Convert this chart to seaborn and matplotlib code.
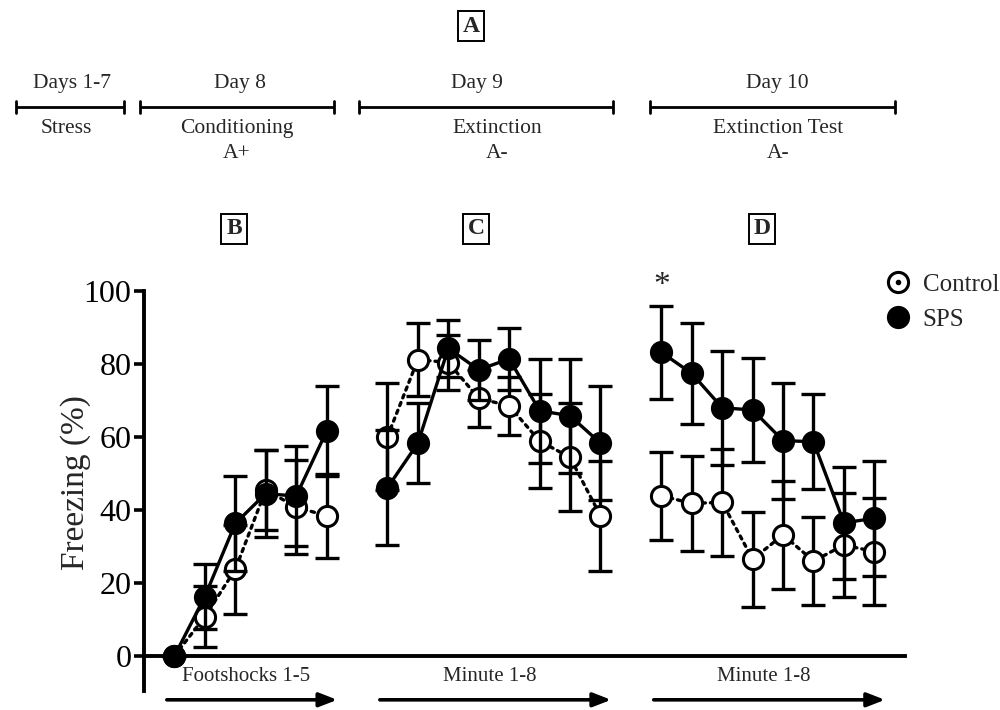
import numpy as np
import pandas as pd
import matplotlib
matplotlib.use("Agg")
import matplotlib.pyplot as plt
import seaborn as sns
from matplotlib.lines import Line2D
from matplotlib.legend_handler import HandlerTuple

# ---------------- data ----------------
panels = ["B", "C", "D"]
panel_axis_labels = ["Footshocks 1-5", "Minute 1-8", "Minute 1-8"]

control_B = [0, 10.8, 23.7, 45.5, 40.8, 38.4]
control_B_sem = [0, 8.3, 12.3, 11.0, 12.8, 11.5]
sps_B = [0, 16.3, 36.3, 44.5, 43.8, 61.6]
sps_B_sem = [0, 8.8, 13.0, 12.0, 13.7, 12.4]

control_C = [60.1, 81.2, 80.4, 70.6, 68.5, 58.9, 54.4, 38.4]
control_C_sem = [14.6, 10.0, 7.5, 7.8, 8.0, 13.0, 14.8, 15.0]
sps_C = [46.1, 58.3, 84.3, 78.4, 81.4, 67.2, 65.8, 58.3]
sps_C_sem = [15.7, 11.0, 7.8, 8.2, 8.4, 14.2, 15.6, 15.7]

control_D = [43.9, 41.8, 42.1, 26.5, 33.2, 26.0, 30.4, 28.6]
control_D_sem = [12.0, 13.0, 14.6, 13.0, 14.8, 12.1, 14.2, 14.7]
sps_D = [83.2, 77.4, 68.0, 67.4, 59.0, 58.7, 36.5, 37.7]
sps_D_sem = [12.8, 13.8, 15.6, 14.2, 15.9, 13.0, 15.4, 15.7]

yticks = [0, 20, 40, 60, 80, 100]

timeline_days = ["Days 1-7", "Day 8", "Day 9", "Day 10"]
timeline_phase = ["Stress", "Conditioning", "Extinction", "Extinction Test"]
timeline_ctx = ["", "A+", "A-", "A-"]

# ---------------- build long table ----------------
control = [control_B, control_C, control_D]
control_sem = [control_B_sem, control_C_sem, control_D_sem]
sps = [sps_B, sps_C, sps_D]
sps_sem = [sps_B_sem, sps_C_sem, sps_D_sem]

rows = []
start = 0
panel_starts = []
for p, name in enumerate(panels):
    n = len(control[p])
    panel_starts.append(start)
    for i in range(n):
        rows.append(dict(panel=name, group="Control", x=start + i, y=control[p][i], err=control_sem[p][i]))
        rows.append(dict(panel=name, group="SPS", x=start + i, y=sps[p][i], err=sps_sem[p][i]))
    start += n + 1
df = pd.DataFrame(rows)

# ---------------- figure ----------------
sns.set_theme(style="ticks")
plt.rcParams["font.family"] = ["Liberation Serif", "DejaVu Serif"]

fig = plt.figure(figsize=(10, 7.1), dpi=100)
ax = fig.add_axes([0.144, 0.0272, 0.776, 0.563])

styles = {
    "Control": dict(mfc="white", ls=(0, (1.0, 1.5)), z=3),
    "SPS": dict(mfc="black", ls="-", z=5),
}
for grp in ["Control", "SPS"]:
    st = styles[grp]
    for name in panels:
        d = df[(df["panel"] == name) & (df["group"] == grp)]
        ax.errorbar(d["x"].to_numpy(), d["y"].to_numpy(), yerr=d["err"].to_numpy(),
                    fmt="none", ecolor="black",
                    elinewidth=2.4, capsize=8.5, capthick=2.4,
                    zorder=st["z"] - 0.5, clip_on=False)
        sns.lineplot(data=d, x="x", y="y", ax=ax, color="black",
                     marker="o", markersize=14.5, markeredgewidth=2.2,
                     markerfacecolor=st["mfc"], markeredgecolor="black",
                     linestyle=st["ls"], linewidth=2.4,
                     dash_capstyle="round", zorder=st["z"], clip_on=False,
                     legend=False)

ax.set_xlim(-1, 24.5)
ax.set_ylim(-9.5, 100)
ax.set_yticks(yticks)
ax.set_yticklabels([str(t) for t in yticks], fontsize=23)
ax.set_xticks([])
ax.set_xlabel("")
ax.set_ylabel("Freezing (%)", fontsize=24)
ax.yaxis.set_label_coords(-0.068, 0.52)
ax.tick_params(axis="y", length=7, width=2.6, direction="out", pad=2, colors="black")
for s in ["top", "right"]:
    ax.spines[s].set_visible(False)
ax.spines["left"].set_linewidth(2.8)
ax.spines["bottom"].set_linewidth(2.8)
ax.spines["bottom"].set_position(("data", 0))
ax.spines["bottom"].set_bounds(-1, 24.0)
ax.spines["left"].set_color("black")
ax.spines["bottom"].set_color("black")
ax.patch.set_alpha(0)

# panel axis labels and arrows
for p, name in enumerate(panels):
    s0 = panel_starts[p]
    n = len(control[p])
    mid = s0 + (n - 1) / 2
    ax.text(mid - 0.15, -5.6, panel_axis_labels[p], ha="center", va="center", fontsize=15)
    ax.annotate("", xy=(s0 + n - 0.65, -12), xytext=(s0 - 0.25, -12),
                arrowprops=dict(arrowstyle="-|>,head_length=0.9,head_width=0.35",
                                lw=2.6, color="black", shrinkA=0, shrinkB=0),
                annotation_clip=False)

# significance star
ax.text(panel_starts[2], sps_D[0] + sps_D_sem[0] + 5.5, "*", ha="center", va="center", fontsize=24)

# legend
h_ctrl = (Line2D([], [], marker="o", ls="none", ms=14.5, mew=2.2, mfc="white", mec="black"),
          Line2D([], [], marker="o", ls="none", ms=3, mfc="black", mec="black"))
h_sps = Line2D([], [], marker="o", ls="none", ms=14.5, mew=2.2, mfc="black", mec="black")
fig.legend([h_ctrl, h_sps], ["Control", "SPS"], handler_map={tuple: HandlerTuple(ndivide=1)},
           loc="upper left", bbox_to_anchor=(0.875, 0.629), frameon=False, fontsize=18,
           handlelength=1.0, handletextpad=0.5, labelspacing=0.5, borderaxespad=0)

# ---------------- overlay: timeline and panel letters ----------------
ov = fig.add_axes([0, 0, 1, 1], zorder=-1)
ov.set_xlim(0, 1000)
ov.set_ylim(710, 0)
ov.axis("off")

bar_spans = [(16, 124), (140, 334), (359, 613), (650, 895)]
day_x = [72, 240, 477, 777]
phase_x = [66, 237, 497, 778]
for i, (a, b) in enumerate(bar_spans):
    ov.plot([a, b], [107, 107], color="black", lw=2.0, solid_capstyle="butt")
    ov.plot([a, a], [101, 113], color="black", lw=2.0)
    ov.plot([b, b], [101, 113], color="black", lw=2.0)
    ov.text(day_x[i], 88, timeline_days[i], ha="center", va="baseline", fontsize=15.5)
    ov.text(phase_x[i], 133, timeline_phase[i], ha="center", va="baseline", fontsize=15.5)
    if timeline_ctx[i]:
        ov.text(phase_x[i], 158, timeline_ctx[i], ha="center", va="baseline", fontsize=15.5)

box = dict(boxstyle="square,pad=0.2", fc="white", ec="black", lw=1.4)
ov.text(471, 26, "A", ha="center", va="center", fontsize=17, fontweight="bold", bbox=box)
for lab, px in zip(panels, [234, 476, 762]):
    ov.text(px, 229, lab, ha="center", va="center", fontsize=17, fontweight="bold", bbox=box)

fig.savefig("out.png", dpi=100)
